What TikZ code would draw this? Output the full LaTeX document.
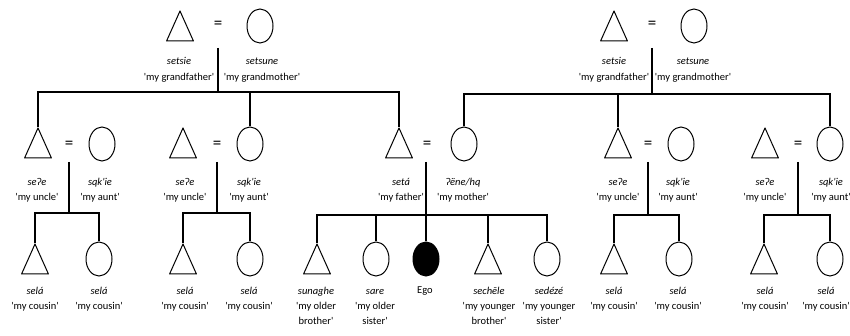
\documentclass[tikz,border=0pt]{standalone}
\usepackage{fontspec}
\setmainfont{Carlito}[Ligatures=TeXOff]
\usetikzlibrary{shapes.geometric}
\tikzset{
  tri/.style={rectangle, draw=none, inner sep=0pt, minimum width=28pt, minimum height=31pt,
    path picture={\draw[line width=1pt, line join=round]
      ([yshift=-0.5pt]path picture bounding box.north) --
      ([shift={(0.6pt,0.55pt)}]path picture bounding box.south west) --
      ([shift={(-0.6pt,0.55pt)}]path picture bounding box.south east) -- cycle;}},
  fem/.style={ellipse, draw, line width=1pt, minimum width=26pt, minimum height=34pt, inner sep=0pt},
  egonode/.style={fem, fill=black},
  eqs/.style={font=\fontsize{17}{17}\selectfont, inner sep=0pt},
  lbl/.style={align=center, font=\fontsize{10.5}{15}\selectfont, anchor=base, inner sep=0pt},
  lbltop/.style={lbl, font=\fontsize{10.5}{16.5}\selectfont},
  conn/.style={line width=2.4pt},
}
\begin{document}
\begin{tikzpicture}[x=1pt, y=-1pt]
\useasboundingbox (0,0) rectangle (850,336);

% generation 1
\node[tri] (GF1) at (180,26) {};
\node[eqs] (E1) at (218,25) {=};
\node[fem] (GM1) at (260,26) {};
\node[tri] (GF2) at (614,26) {};
\node[eqs] (E2) at (652,25) {=};
\node[fem] (GM2) at (694,26) {};
\node[lbltop] (LGF1) at (179,81) {\textit{setsie}\\'my grandfather'};
\node[lbltop] (LGM1) at (262,81) {\textit{setsune}\\'my grandmother'};
\node[lbltop] (LGF2) at (614,81) {\textit{setsie}\\'my grandfather'};
\node[lbltop] (LGM2) at (693,81) {\textit{setsune}\\'my grandmother'};

% generation 2
\node[tri] (U1) at (38,143) {};
\node[eqs] (E3) at (69,145) {=};
\node[fem] (A1) at (102,144) {};
\node[tri] (U2) at (183,143) {};
\node[eqs] (E4) at (217,145) {=};
\node[fem] (A2) at (250,144) {};
\node[tri] (F) at (399,143) {};
\node[eqs] (E5) at (427,145) {=};
\node[fem] (M) at (464,144) {};
\node[tri] (U3) at (618,143) {};
\node[eqs] (E6) at (648,145) {=};
\node[fem] (A3) at (681,144) {};
\node[tri] (U4) at (765,143) {};
\node[eqs] (E7) at (798,145) {=};
\node[fem] (A4) at (830,144) {};

\node[lbl] (LU1) at (37,201) {\textit{seʔe}\\'my uncle'};
\node[lbl] (LA1) at (100,201) {\textit{sqk'ie}\\'my aunt'};
\node[lbl] (LU2) at (185,201) {\textit{seʔe}\\'my uncle'};
\node[lbl] (LA2) at (249,201) {\textit{sqk'ie}\\'my aunt'};
\node[lbl] (LF) at (401,201) {\textit{setá}\\'my father'};
\node[lbl] (LM) at (463,201) {\textit{ʔëne/hq}\\'my mother'};
\node[lbl] (LU3) at (618,201) {\textit{seʔe}\\'my uncle'};
\node[lbl] (LA3) at (678,201) {\textit{sqk'ie}\\'my aunt'};
\node[lbl] (LU4) at (765,201) {\textit{seʔe}\\'my uncle'};
\node[lbl] (LA4) at (831,201) {\textit{sqk'ie}\\'my aunt'};

% generation 3
\node[tri] (C1a) at (35,259) {};
\node[fem] (C1b) at (99,259) {};
\node[tri] (C2a) at (183,259) {};
\node[fem] (C2b) at (250,259) {};
\node[tri] (OB) at (317,259) {};
\node[fem] (OS) at (376,259) {};
\node[egonode] (EGO) at (426,259) {};
\node[tri] (YB) at (488,259) {};
\node[fem] (YS) at (547,259) {};
\node[tri] (C3a) at (614,259) {};
\node[fem] (C3b) at (679,259) {};
\node[tri] (C4a) at (764,259) {};
\node[fem] (C4b) at (830,259) {};

\node[lbl] (LC1a) at (35,309) {\textit{selá}\\'my cousin'};
\node[lbl] (LC1b) at (99,309) {\textit{selá}\\'my cousin'};
\node[lbl] (LC2a) at (185,309) {\textit{selá}\\'my cousin'};
\node[lbl] (LC2b) at (249,309) {\textit{selá}\\'my cousin'};
\node[lbl] (LOB) at (316,324) {\textit{sunaghe}\\'my older\\brother'};
\node[lbl] (LOS) at (375,324) {\textit{sare}\\'my older\\sister'};
\node[lbl] (LEGO) at (425,294) {Ego};
\node[lbl] (LYB) at (489,324) {\textit{sechēle}\\'my younger\\brother'};
\node[lbl] (LYS) at (549,324) {\textit{sedézé}\\'my younger\\sister'};
\node[lbl] (LC3a) at (614,309) {\textit{selá}\\'my cousin'};
\node[lbl] (LC3b) at (678,309) {\textit{selá}\\'my cousin'};
\node[lbl] (LC4a) at (765,309) {\textit{selá}\\'my cousin'};
\node[lbl] (LC4b) at (826,309) {\textit{selá}\\'my cousin'};

% connectors generation 1 -> 2
\coordinate (t1) at (218,48);
\coordinate (j1) at (218,92);
\draw[conn] (t1) -- (j1);
\draw[conn] (U1.north) |- (j1) -| (F.north);
\draw[conn] (j1) -| (A2.north);
\coordinate (t2) at (652,48);
\coordinate (j2) at (652,94);
\draw[conn] (t2) -- (j2);
\draw[conn] (M.north) |- (j2) -| (A4.north);
\draw[conn] (j2) -| (U3.north);

% connectors generation 2 -> 3
\coordinate (m1) at (69,162);
\coordinate (k1) at (69,213);
\draw[conn] (m1) -- (k1);
\draw[conn] (C1a.north) |- (k1) -| (C1b.north);
\coordinate (m2) at (217,162);
\coordinate (k2) at (217,213);
\draw[conn] (m2) -- (k2);
\draw[conn] (C2a.north) |- (k2) -| (C2b.north);
\coordinate (m3) at (426,162);
\coordinate (k3) at (426,215);
\draw[conn] (m3) -- (EGO.north);
\draw[conn] (OB.north) |- (k3) -| (YS.north);
\draw[conn] (k3) -| (OS.north);
\draw[conn] (k3) -| (YB.north);
\coordinate (m4) at (648,162);
\coordinate (k4) at (648,215);
\draw[conn] (m4) -- (k4);
\draw[conn] (C3a.north) |- (k4) -| (C3b.north);
\coordinate (m5) at (798,162);
\coordinate (k5) at (798,215);
\draw[conn] (m5) -- (k5);
\draw[conn] (C4a.north) |- (k5) -| (C4b.north);
\end{tikzpicture}
\end{document}
